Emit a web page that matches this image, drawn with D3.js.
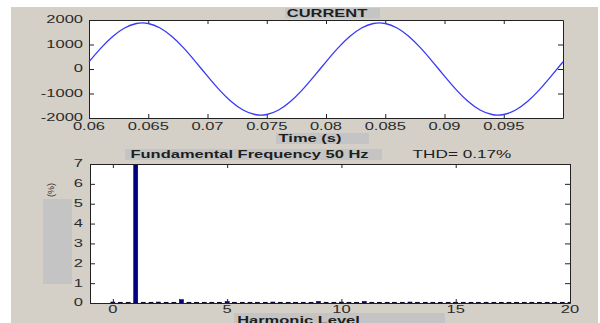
<!DOCTYPE html>
<html><head><meta charset="utf-8">
<script src="https://cdn.jsdelivr.net/npm/d3@7"></script>
<style>body{margin:0;background:#fff}svg{display:block}</style>
</head><body>
<svg id="c" width="600" height="323"></svg>
<script>
// ---------- data ----------
const timeTicks = [0.06, 0.065, 0.07, 0.075, 0.08, 0.085, 0.09, 0.095];
const timeTickLabels = ["0.06", "0.065", "0.07", "0.075", "0.08", "0.085", "0.09", "0.095"];
const currentTicks = [-2000, -1000, 0, 1000, 2000];
const currentTickLabels = ["-2000", "-1000", "0", "1000", "2000"];
const times = [0.060,0.061,0.062,0.063,0.064,0.065,0.066,0.067,0.068,0.069,
               0.070,0.071,0.072,0.073,0.074,0.075,0.076,0.077,0.078,0.079,
               0.080,0.081,0.082,0.083,0.084,0.085,0.086,0.087,0.088,0.089,
               0.090,0.091,0.092,0.093,0.094,0.095,0.096,0.097,0.098,0.099,0.100];
const current = [294,854,1329,1675,1857,1857,1675,1329,854,294,
                 -294,-854,-1329,-1675,-1857,-1857,-1675,-1329,-854,-294,
                 294,854,1329,1675,1857,1857,1675,1329,854,294,
                 -294,-854,-1329,-1675,-1857,-1857,-1675,-1329,-854,-294,294];

const harmonicTicks = [0, 5, 10, 15, 20];
const harmonicTickLabels = ["0", "5", "10", "15", "20"];
const magTicks = [0, 1, 2, 3, 4, 5, 6, 7];
const magTickLabels = ["0", "1", "2", "3", "4", "5", "6", "7"];
const harmonics = [0,0.33,0.67,1,1.33,1.67,2,2.33,2.67,3,3.33,3.67,4,4.33,4.67,5,5.33,5.67,6,6.33,6.67,
                   7,7.33,7.67,8,8.33,8.67,9,9.33,9.67,10,10.33,10.67,11,11.33,11.67,12,12.33,12.67,
                   13,13.33,13.67,14,14.33,14.67,15,15.33,15.67,16,16.33,16.67,17,17.33,17.67,18,18.33,18.67,
                   19,19.33,19.67,20];
const magnitudes = [0.05,0.04,0.04,100,0.04,0.04,0.05,0.04,0.04,0.17,0.04,0.04,0.04,0.04,0.04,0.08,0.04,0.04,0.04,0.04,0.04,
                    0.05,0.04,0.04,0.04,0.04,0.04,0.08,0.04,0.04,0.05,0.04,0.04,0.08,0.04,0.04,0.04,0.04,0.04,
                    0.05,0.04,0.04,0.04,0.04,0.04,0.04,0.04,0.04,0.04,0.04,0.04,0.04,0.04,0.04,0.04,0.04,0.04,
                    0.04,0.04,0.04,0.04];

const titleTop = "CURRENT";
const xLabelTop = "Time (s)";
const titleBottom = "Fundamental Frequency 50 Hz";
const thdText = "THD= 0.17%";
const yLabelBottom = "(%)";
const xLabelBottom = "Harmonic Level";

// ---------- drawing ----------
const svg = d3.select("#c");
const SX = 1.65;
const FONT = "'Liberation Sans', Arial, sans-serif";
const PANEL = "#d4d0c8", BOX = "#c4c4c4", AX = "#222";

function label(parent, x, y, text, o = {}) {
  const g = parent.append("g").attr("transform", `translate(${x},${y}) scale(${o.sx || SX},1)`);
  g.append("text")
    .attr("text-anchor", o.anchor || "middle")
    .attr("font-family", FONT)
    .attr("font-size", o.size || 10)
    .attr("font-weight", o.weight || "normal")
    .attr("fill", o.color || "#2b2b2b")
    .text(text);
  return g;
}

svg.append("rect").attr("x", 11).attr("y", 7).attr("width", 587).attr("height", 316).attr("fill", PANEL);

// ---- top plot ----
const tp = {l: 89, r: 563, t: 20, b: 118};
const xT = d3.scaleLinear().domain([0.06, 0.1]).range([tp.l, tp.r]);
const yT = d3.scaleLinear().domain([-2000, 2000]).range([tp.b, tp.t]);
svg.append("rect").attr("x", tp.l).attr("y", tp.t).attr("width", tp.r - tp.l).attr("height", tp.b - tp.t).attr("fill", "#fff");

const topAxes = svg.append("g");
topAxes.append("g").attr("transform", `translate(0,${tp.b})`)
  .call(d3.axisBottom(xT).tickValues(timeTicks).tickSizeInner(-4).tickSizeOuter(0).tickFormat(""));
topAxes.append("g").attr("transform", `translate(0,${tp.t})`)
  .call(d3.axisTop(xT).tickValues(timeTicks).tickSizeInner(-4).tickSizeOuter(0).tickFormat(""));
topAxes.append("g").attr("transform", `translate(${tp.l},0)`)
  .call(d3.axisLeft(yT).tickValues(currentTicks).tickSizeInner(-5).tickSizeOuter(0).tickFormat(""));
topAxes.append("g").attr("transform", `translate(${tp.r},0)`)
  .call(d3.axisRight(yT).tickValues(currentTicks).tickSizeInner(-5).tickSizeOuter(0).tickFormat(""));
topAxes.selectAll("path.domain, line").attr("stroke", AX);

timeTicks.forEach((v, i) => label(svg, xT(v), 129.5, timeTickLabels[i]));
currentTicks.forEach((v, i) => label(svg, 83, yT(v) + 3.4, currentTickLabels[i], {anchor: "end"}));

const line = d3.line().x((d, i) => xT(times[i])).y(d => yT(d)).curve(d3.curveNatural);
svg.append("path").datum(current).attr("d", line).attr("fill", "none")
  .attr("stroke", "#3838f5").attr("stroke-width", 1.3);

svg.append("rect").attr("x", 285).attr("y", 8).attr("width", 95).attr("height", 10.5).attr("fill", BOX);
label(svg, 327, 17, titleTop, {weight: "bold", color: "#1e1e1e"});
svg.append("rect").attr("x", 276).attr("y", 133).attr("width", 93).attr("height", 11).attr("fill", BOX);
label(svg, 310, 142, xLabelTop, {weight: "bold", color: "#1e1e1e"});

// ---- bottom plot ----
const bp = {l: 90, r: 570, t: 164, b: 303};
const xB = d3.scaleLinear().domain([-1, 20]).range([bp.l, bp.r]);
const yB = d3.scaleLinear().domain([0, 7]).range([bp.b, bp.t]);
svg.append("rect").attr("x", bp.l).attr("y", bp.t).attr("width", bp.r - bp.l).attr("height", bp.b - bp.t).attr("fill", "#fff");
svg.append("clipPath").attr("id", "clipB").append("rect")
  .attr("x", bp.l).attr("y", bp.t).attr("width", bp.r - bp.l).attr("height", bp.b - bp.t);

const halfW = 0.09;
svg.append("g").attr("clip-path", "url(#clipB)").selectAll("rect").data(magnitudes).join("rect")
  .attr("x", (d, i) => xB(harmonics[i] - halfW))
  .attr("width", (d, i) => xB(harmonics[i] + halfW) - xB(harmonics[i] - halfW))
  .attr("y", d => yB(d))
  .attr("height", d => yB(0) - yB(d))
  .attr("fill", "#000080").attr("stroke", "#000").attr("stroke-width", 0.5);

const botAxes = svg.append("g");
botAxes.append("g").attr("transform", `translate(0,${bp.b})`)
  .call(d3.axisBottom(xB).tickValues(harmonicTicks).tickSizeInner(-4).tickSizeOuter(0).tickFormat(""));
botAxes.append("g").attr("transform", `translate(0,${bp.t})`)
  .call(d3.axisTop(xB).tickValues(harmonicTicks).tickSizeInner(-4).tickSizeOuter(0).tickFormat(""));
botAxes.append("g").attr("transform", `translate(${bp.l},0)`)
  .call(d3.axisLeft(yB).tickValues(magTicks).tickSizeInner(-5).tickSizeOuter(0).tickFormat(""));
botAxes.append("g").attr("transform", `translate(${bp.r},0)`)
  .call(d3.axisRight(yB).tickValues(magTicks).tickSizeInner(-5).tickSizeOuter(0).tickFormat(""));
botAxes.selectAll("path.domain, line").attr("stroke", AX);

harmonicTicks.forEach((v, i) => label(svg, xB(v), 312.5, harmonicTickLabels[i]));
magTicks.forEach((v, i) => label(svg, 83, yB(v) + 3.4, magTickLabels[i], {anchor: "end"}));

svg.append("rect").attr("x", 125).attr("y", 149).attr("width", 257).attr("height", 11).attr("fill", BOX);
label(svg, 249.5, 158, titleBottom, {weight: "bold", color: "#1e1e1e"});
label(svg, 462, 158, thdText, {sx: 1.72, color: "#1e1e1e"});

svg.append("rect").attr("x", 43).attr("y", 199).attr("width", 29).attr("height", 85).attr("fill", BOX);
svg.append("text").attr("transform", "translate(54,190) rotate(-90)")
  .attr("text-anchor", "middle").attr("font-family", FONT).attr("font-size", 9)
  .attr("fill", "#2b2b2b").text(yLabelBottom);

svg.append("rect").attr("x", 234).attr("y", 313).attr("width", 211).attr("height", 10).attr("fill", BOX);
label(svg, 298.5, 323.5, xLabelBottom, {weight: "bold", color: "#1e1e1e"});
</script>
</body></html>
